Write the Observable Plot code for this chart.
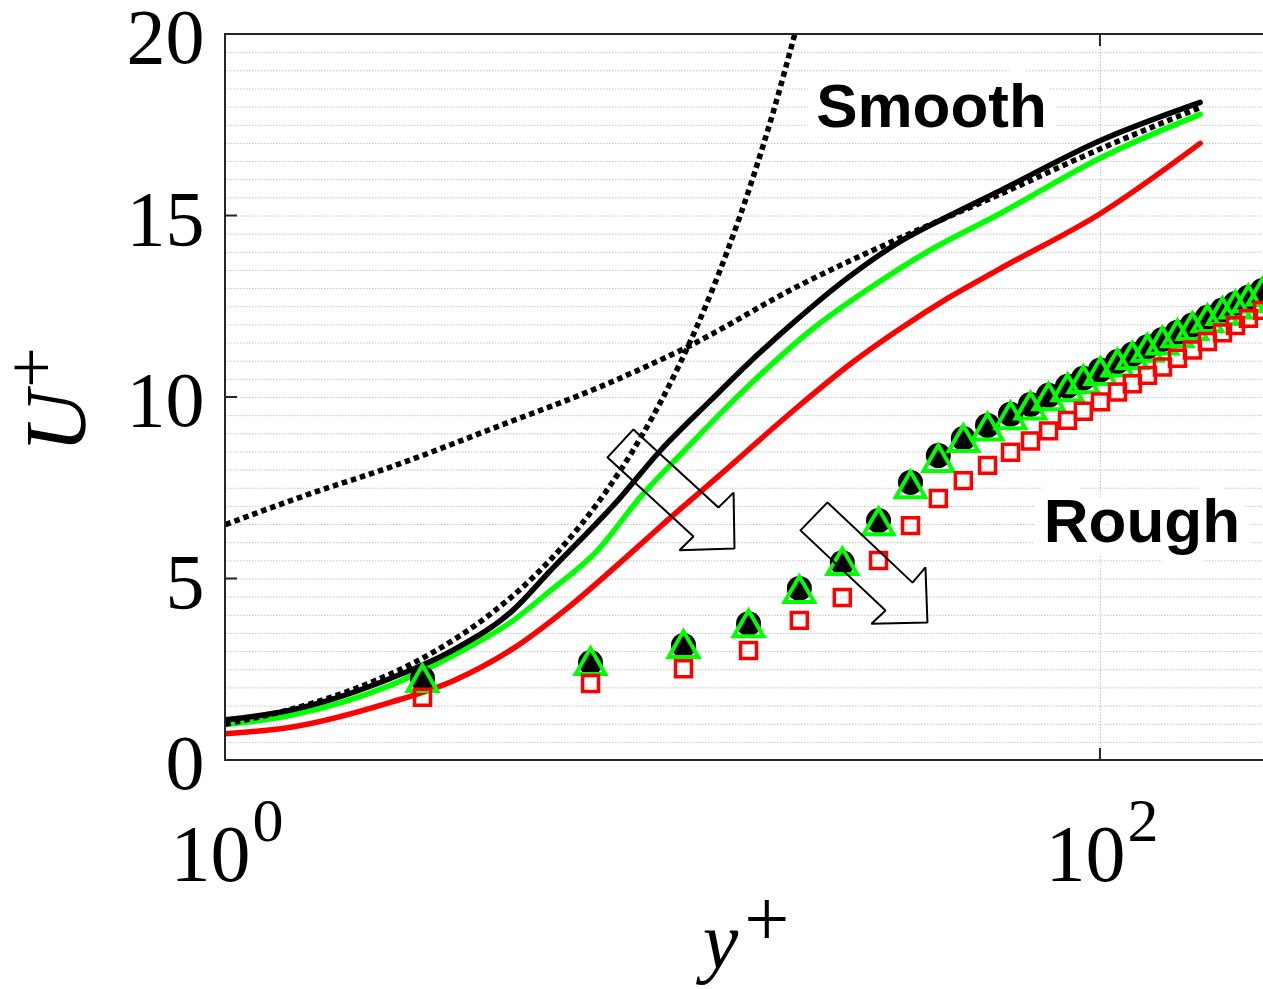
<!DOCTYPE html>
<html>
<head>
<meta charset="utf-8">
<script src="https://cdn.jsdelivr.net/npm/d3@7"></script>
<script src="https://cdn.jsdelivr.net/npm/@observablehq/plot@0.6"></script>
<style>
  html, body { margin: 0; padding: 0; background: #fff; }
  #chart svg { display: block; }
</style>
</head>
<body>
<div id="chart"></div>
<script>
// ---- Data (y+ , U+) ----
// Smooth-wall profiles (solid lines)
const blackYp = [1, 1.4, 2.38, 3.32, 4.55, 5.53, 7.88, 9.87, 12.8, 15.8, 19.6, 26.8, 34.9, 45, 59, 100, 169];
const blackU  = [1.12, 1.38, 2.26, 3.05, 4.15, 5.23, 7.16, 8.54, 9.9, 10.98, 12.0, 13.35, 14.3, 15.0, 15.7, 17.08, 18.13];
const greenYp = [1, 1.4, 2.38, 3.32, 4.55, 5.53, 7.09, 8.87, 11.2, 14.5, 22.3, 30, 40, 59, 100, 169];
const greenU  = [0.99, 1.24, 2.07, 2.9, 3.86, 4.68, 5.79, 7.25, 8.54, 9.92, 11.95, 13.05, 14.0, 15.07, 16.6, 17.8];
const redYp   = [1, 1.4, 2.38, 3.32, 4.55, 6.05, 8.58, 10.2, 13.3, 20.6, 27, 34.9, 45, 59, 100, 169];
const redU    = [0.74, 0.91, 1.6, 2.2, 3.09, 4.2, 5.79, 6.6, 7.8, 9.8, 10.95, 11.9, 12.75, 13.55, 15.07, 17.0];

// Reference laws (dotted lines)
const viscYp = [1, 1.5, 2, 3, 4, 5, 6, 7, 8, 10, 12, 14, 16, 18, 20];
const viscU  = [1, 1.5, 2, 3, 4, 5, 6, 7, 8, 10, 12, 14, 16, 18, 20];
const logYp  = [1, 1.48, 2.51, 4.25, 7.2, 11.4, 20.6, 34.9, 59, 100, 170];
const logU   = [6.5, 7.25, 8.18, 9.23, 10.3, 11.4, 13.1, 14.4, 15.6, 16.85, 18.0];

// Rough-wall profiles (markers)
const markYp = [2.82, 6.83, 11.14, 15.69, 20.5, 25.7, 31.1, 36.8, 42.6, 48.6, 55.2, 62.3, 69.2, 76.1, 84.1, 91.4, 100, 109.4, 118.3, 128.1, 138.6, 150.0, 162.3, 175.6, 190.1, 203.5, 217.9, 234.6];
const circleU = [2.26, 2.70, 3.17, 3.77, 4.74, 5.45, 6.61, 7.66, 8.40, 8.87, 9.23, 9.54, 9.81, 10.06, 10.31, 10.53, 10.76, 10.99, 11.19, 11.40, 11.60, 11.80, 12.00, 12.21, 12.41, 12.59, 12.76, 12.95];
const triU    = [2.15, 2.62, 3.09, 3.66, 4.60, 5.37, 6.47, 7.49, 8.21, 8.76, 9.08, 9.39, 9.66, 9.91, 10.16, 10.38, 10.61, 10.84, 11.04, 11.25, 11.45, 11.65, 11.85, 12.06, 12.26, 12.44, 12.61, 12.80];
const squareU = [1.74, 2.12, 2.53, 3.03, 3.86, 4.49, 5.51, 6.47, 7.22, 7.71, 8.13, 8.49, 8.80, 9.08, 9.37, 9.62, 9.88, 10.15, 10.38, 10.61, 10.84, 11.08, 11.31, 11.54, 11.78, 11.98, 12.18, 12.40];

// Annotation arrows (outline vertices, in data coordinates)
const arrow1Yp = [7.47, 8.56, 13.39, 14.50, 14.57, 10.91, 11.74, 7.47];
const arrow1U  = [8.35, 9.12, 6.97, 7.38, 5.84, 5.79, 6.17, 8.35];
const arrow2Yp = [20.62, 23.77, 37.19, 39.81, 40.23, 29.96, 32.26, 20.62];
const arrow2U  = [6.34, 7.11, 4.90, 5.32, 3.80, 3.77, 4.13, 6.34];

// Labels
const noteText = ["Smooth", "Rough"];
const noteYp   = [41.1, 124.4];
const noteU    = [17.99, 6.56];

// Axis ticks
const yTicks = [0, 5, 10, 15, 20];
const xTicks = [1, 100];
const xTickExp = ["0", "2"];

// ---- helpers ----
const pts = (xs, ys) => xs.map((x, i) => ({x, y: ys[i]}));
const serif = "'Liberation Serif', 'Times New Roman', serif";

function frameMark(index, scales, values, dims) {
  const {width, height, marginLeft, marginTop, marginBottom} = dims;
  const l = marginLeft, t = marginTop, b = height - marginBottom, r = width;
  const g = d3.create("svg:g").attr("fill", "none").attr("stroke", "#262626").attr("stroke-width", 2);
  g.append("path").attr("d", `M${r},${t}H${l}V${b}H${r}`);
  const tk = 12;
  const p = [];
  for (const v of yTicks) {
    const yy = scales.y(v);
    if (yy > t + 1 && yy < b - 1) p.push(`M${l},${yy}h${tk}`);
  }
  for (const v of xTicks) {
    const xx = scales.x(v);
    if (xx > l + 1) { p.push(`M${xx},${t}v${tk}`); p.push(`M${xx},${b}v${-tk}`); }
  }
  g.append("path").attr("d", p.join(""));
  return g.node();
}

function axisLabels(index, scales, values, dims) {
  const {width, height, marginLeft, marginRight} = dims;
  const g = d3.create("svg:g").attr("font-family", serif).attr("fill", "black");
  const cx = (marginLeft + width - marginRight) / 2;
  const tx = g.append("text").attr("x", cx + 2).attr("y", height - 21)
    .attr("text-anchor", "middle").attr("font-size", 80);
  tx.append("tspan").attr("font-style", "italic").text("y");
  tx.append("tspan").attr("dx", 6).attr("dy", -22).text("+");
  const ty = g.append("text").attr("transform", `translate(${marginLeft - 140},400) rotate(-90)`)
    .attr("text-anchor", "middle").attr("font-size", 86);
  ty.append("tspan").attr("font-style", "italic").text("U");
  ty.append("tspan").attr("dx", 3).attr("dy", -30).attr("font-size", 72).text("+");
  return g.node();
}

const dotted = {stroke: "#000", strokeWidth: 5.5, strokeDasharray: "5.5,4", strokeLinecap: "butt", curve: "monotone-x", clip: true};
const solid = {strokeWidth: 5.5, curve: "monotone-x", clip: true};

const chart = Plot.plot({
  width: 1263,
  height: 989,
  marginLeft: 225,
  marginRight: 0,
  marginTop: 34,
  marginBottom: 229,
  style: {fontFamily: serif, background: "white", overflow: "visible"},
  x: {type: "log", domain: [1, 235.9], axis: null},
  y: {domain: [0, 20], axis: null},
  marks: [
    Plot.gridY(d3.range(0.5, 20, 0.5), {stroke: "#c4c4c4", strokeOpacity: 1, strokeWidth: 1, strokeDasharray: "1.5,1.5"}),
    Plot.gridX([100], {stroke: "#c4c4c4", strokeOpacity: 1, strokeWidth: 1, strokeDasharray: "1.5,1.5"}),

    // smooth-wall solid lines
    Plot.line(pts(redYp, redU), {x: "x", y: "y", stroke: "#ff0000", ...solid}),
    Plot.line(pts(greenYp, greenU), {x: "x", y: "y", stroke: "#00ff00", ...solid}),
    Plot.line(pts(blackYp, blackU), {x: "x", y: "y", stroke: "#000000", ...solid}),

    // reference laws, dotted
    Plot.line(pts(viscYp, viscU), {x: "x", y: "y", ...dotted}),
    Plot.line(pts(logYp, logU), {x: "x", y: "y", ...dotted}),

    // rough-wall markers
    Plot.dot(pts(markYp, circleU), {x: "x", y: "y", r: 12.5, fill: "#000", stroke: "none", symbol: "circle"}),
    Plot.dot(pts(markYp, triU), {x: "x", y: "y", r: 11, fill: "none", stroke: "#00ff00", strokeWidth: 4, symbol: "triangle"}),
    Plot.dot(pts(markYp, squareU), {x: "x", y: "y", r: 9, fill: "none", stroke: "#ff0000", strokeWidth: 3.5, symbol: "square"}),

    // arrows
    Plot.line(pts(arrow1Yp, arrow1U), {x: "x", y: "y", stroke: "#000", strokeWidth: 2, strokeLinejoin: "miter"}),
    Plot.line(pts(arrow2Yp, arrow2U), {x: "x", y: "y", stroke: "#000", strokeWidth: 2, strokeLinejoin: "miter"}),

    // annotations with white background halo
    Plot.text(noteText, {x: (d, i) => noteYp[i], y: (d, i) => noteU[i], text: d => d,
      fontSize: 62, fontWeight: "bold", fontFamily: "'Liberation Sans', Arial, sans-serif",
      fill: "#000", stroke: "white", strokeWidth: 26, strokeLinejoin: "round", lineAnchor: "middle", textAnchor: "middle"}),

    // y tick labels
    Plot.text(yTicks, {y: d => d, frameAnchor: "left", dx: -21, dy: 4, textAnchor: "end", lineAnchor: "middle",
      fontSize: 78, fontFamily: serif, fill: "#000", text: d => String(d)}),
    // x tick labels 10^n
    Plot.text(xTicks, {x: d => d, frameAnchor: "bottom", lineAnchor: "top", dy: 64, dx: 25, textAnchor: "end",
      fontSize: 80, fontFamily: serif, fill: "#000", text: () => "10"}),
    Plot.text(xTicks, {x: d => d, frameAnchor: "bottom", lineAnchor: "top", dy: 36, dx: 27, textAnchor: "start",
      fontSize: 62, fontFamily: serif, fill: "#000", text: (d, i) => xTickExp[i]}),

    frameMark,
    axisLabels
  ]
});

document.getElementById("chart").appendChild(chart);
</script>
</body>
</html>
